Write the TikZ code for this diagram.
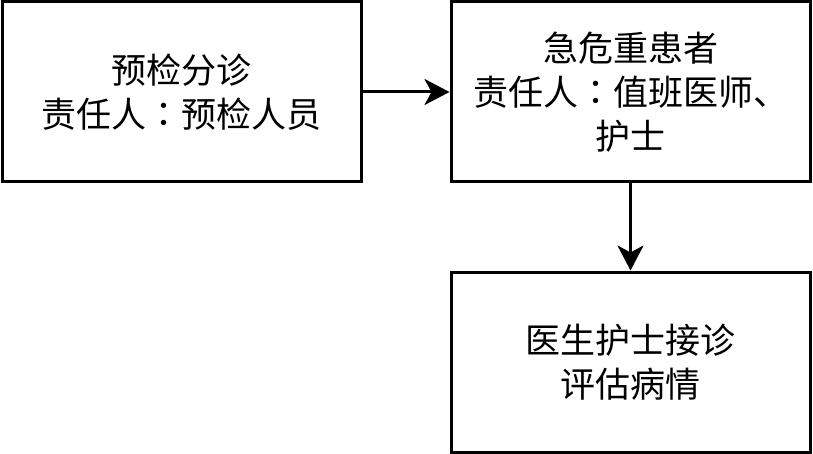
\documentclass[tikz,border=0pt]{standalone}
\usepackage{fontspec}
\newfontfamily\cjk{Noto Sans CJK SC}
\newfontfamily\cjktc{Noto Sans CJK TC}
\usepackage{tikz}
\usetikzlibrary{arrows.meta}
\usetikzlibrary{positioning}

\newcommand{\midcolon}{{\cjktc ：}}
\tikzset{
  stage/.style={draw,line width=3pt,minimum width=359pt,minimum height=180pt,inner sep=0pt,
    align=center,font=\cjk\fontsize{35pt}{44pt}\selectfont},
  flow/.style={line width=3pt,-{Stealth[length=25pt,width=26pt,inset=7pt]}}
}

\begin{document}
\begin{tikzpicture}[line join=miter,x=1pt,y=1pt]
\useasboundingbox (0,0) rectangle (813,-454);
\node[stage] (triage) at (181.5,-92) {预检分诊\\责任人\midcolon 预检人员};
\node[stage,right=87pt of triage] (critical) {急危重患者\\责任人\midcolon 值班医师、\\护士};
\node[stage,below=87pt of critical] (assess) {医生护士接诊\\评估病情};
\coordinate (entry) at ([yshift=20pt]triage.north);
\draw[line width=3pt] (entry) -- (triage.north);
\draw[flow] (triage) -- (critical);
\draw[flow] (critical) -- (assess);
\end{tikzpicture}
\end{document}
